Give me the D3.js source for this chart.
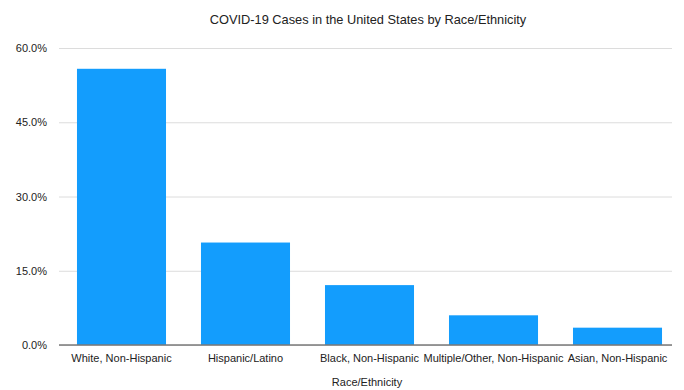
<!DOCTYPE html>
<html>
<head>
<meta charset="utf-8">
<script src="https://cdn.jsdelivr.net/npm/d3@7"></script>
<style>
  html, body { margin: 0; padding: 0; background: #fff; }
  svg text { font-family: "Liberation Sans", Arial, sans-serif; fill: #222; }
</style>
</head>
<body>
<svg id="chart" width="684" height="390"></svg>
<script>
// Share of COVID-19 cases by race/ethnicity (percent)
const categories = ["White, Non-Hispanic", "Hispanic/Latino", "Black, Non-Hispanic", "Multiple/Other, Non-Hispanic", "Asian, Non-Hispanic"];
const shares = [55.8, 20.7, 12.1, 6.0, 3.5];
const yTicks = [0, 15, 30, 45, 60];

const svg = d3.select("#chart");
const width = 684, height = 390;
const plotLeft = 59, plotRight = 672, plotTop = 48, plotBottom = 345;

const x = d3.scaleBand()
  .domain(categories)
  .range([plotLeft, 680])
  .paddingInner(0.282)
  .paddingOuter(0.145);

const y = d3.scaleLinear()
  .domain([0, 60])
  .range([plotBottom, plotTop]);

// horizontal gridlines with percentage labels
const yAxis = d3.axisLeft(y)
  .tickValues(yTicks)
  .tickSize(-(plotRight - plotLeft))
  .tickPadding(12)
  .tickFormat(d => d.toFixed(1) + "%");

const gy = svg.append("g")
  .attr("transform", `translate(${plotLeft},0)`)
  .call(yAxis);
gy.select(".domain").remove();
gy.selectAll(".tick line").attr("stroke", "#dcdcdc").attr("stroke-width", 1);
gy.selectAll(".tick text").style("font-size", "11px").attr("fill", "#333");

// bars
svg.append("g")
  .selectAll("rect")
  .data(categories.map((c, i) => ({ c, v: shares[i] })))
  .join("rect")
  .attr("x", d => x(d.c))
  .attr("y", d => y(d.v))
  .attr("width", x.bandwidth())
  .attr("height", d => y(0) - y(d.v))
  .attr("fill", "#139dfd");

// baseline and category labels
const xAxis = d3.axisBottom(x).tickSize(0).tickPadding(9);
const gx = svg.append("g")
  .attr("transform", `translate(0,${y(0)})`)
  .call(xAxis);
gx.select(".domain").attr("stroke", "#7a7a7a").attr("stroke-width", 1.6)
  .attr("d", `M${plotLeft},0H${plotRight}`);
gx.selectAll(".tick text").style("font-size", "11px").attr("fill", "#222");

// title
svg.append("text")
  .attr("x", 368)
  .attr("y", 24)
  .attr("text-anchor", "middle")
  .style("font-size", "12.8px")
  .text("COVID-19 Cases in the United States by Race/Ethnicity");

// axis title
svg.append("text")
  .attr("x", 367)
  .attr("y", 386)
  .attr("text-anchor", "middle")
  .style("font-size", "11px")
  .text("Race/Ethnicity");
</script>
</body>
</html>
